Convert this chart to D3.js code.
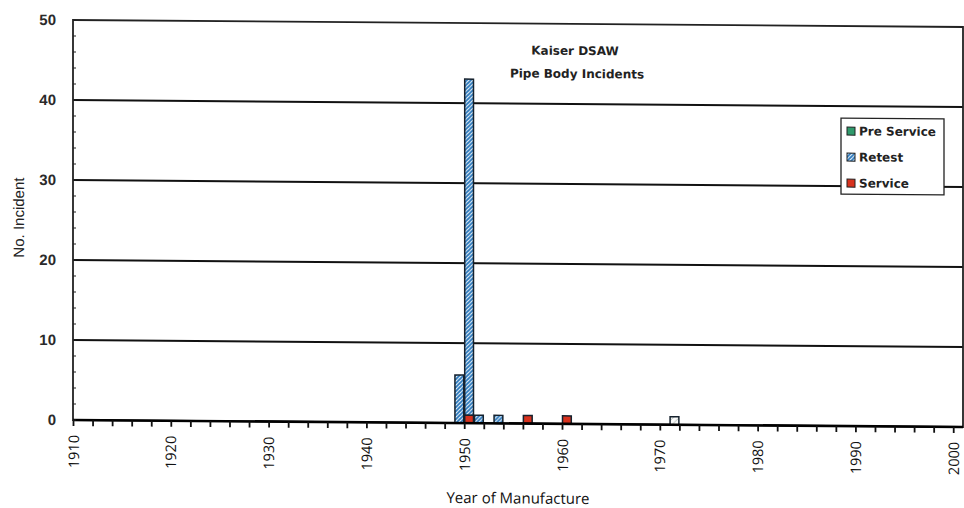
<!DOCTYPE html>
<html>
<head>
<meta charset="utf-8">
<script src="https://cdn.jsdelivr.net/npm/d3@7"></script>
<style>
  body { margin: 0; background: #fff; }
  svg { display: block; }
</style>
</head>
<body>
<div id="chart"></div>
<script>
// data
const years = [1949, 1950, 1951, 1953, 1956, 1960, 1971];
const preService = [0, 0, 0, 0, 0, 0, 1];
const retest = [6, 42, 1, 1, 0, 0, 0];
const service = [0, 1, 0, 0, 1, 1, 0];
const seriesNames = ["Pre Service", "Retest", "Service"];
const yTicks = [0, 10, 20, 30, 40, 50];
const xTickLabels = [1910, 1920, 1930, 1940, 1950, 1960, 1970, 1980, 1990, 2000];

const width = 964, height = 508;
const plotLeft = 73, plotRight = 963, plotTop = 20, plotBottom = 420;

const svg = d3.select("#chart").append("svg")
    .attr("width", width)
    .attr("height", height);

// the scan is slightly skewed
let root = svg.append("g")
    .attr("transform", "translate(" + plotLeft + ",0) skewY(0.45) translate(" + (-plotLeft) + ",0)");

let defs = svg.append("defs");
let pRetest = defs.append("pattern")
    .attr("id", "retest")
    .attr("patternUnits", "userSpaceOnUse")
    .attr("width", 4).attr("height", 4);
pRetest.append("rect").attr("width", 4).attr("height", 4).attr("fill", "#f4f8fb");
pRetest.append("path")
    .attr("d", "M-1,1 l2,-2 M0,4 l4,-4 M3,5 l2,-2")
    .attr("stroke", "#2a78bd").attr("stroke-width", 1.9);

let pPre = defs.append("pattern")
    .attr("id", "pre")
    .attr("patternUnits", "userSpaceOnUse")
    .attr("width", 6).attr("height", 6);
pPre.append("rect").attr("width", 6).attr("height", 6).attr("fill", "#fbfbfb");
pPre.append("path")
    .attr("d", "M0,6 l6,-6")
    .attr("stroke", "#9aa9a2").attr("stroke-width", 0.8);

const x = d3.scaleLinear().domain([1910, 2001]).range([plotLeft, plotRight]);
const y = d3.scaleLinear().domain([0, 50]).range([plotBottom, plotTop]);

// gridlines
root.append("g")
    .selectAll("line")
    .data(yTicks.filter(d => d > 0 && d < 50))
    .enter().append("line")
    .attr("x1", plotLeft).attr("x2", plotRight)
    .attr("y1", d => y(d)).attr("y2", d => y(d))
    .attr("stroke", "#111")
    .attr("stroke-width", 2);

// frame
root.append("rect")
    .attr("x", plotLeft).attr("y", plotTop)
    .attr("width", plotRight - plotLeft).attr("height", plotBottom - plotTop)
    .attr("fill", "none")
    .attr("stroke", "#222")
    .attr("stroke-width", 1.8);

// bars (stacked, service at the bottom)
const table = years.map((yr, i) => ({
    year: yr, "Service": service[i], "Retest": retest[i], "Pre Service": preService[i]
}));
const stack = d3.stack().keys(["Service", "Retest", "Pre Service"])(table);
const fills = { "Pre Service": "url(#pre)", "Retest": "url(#retest)", "Service": "#d8321e" };

root.append("g")
    .selectAll("g")
    .data(stack)
    .enter().append("g")
    .attr("fill", d => fills[d.key])
    .selectAll("rect")
    .data(d => d.filter(p => p[1] > p[0]))
    .enter().append("rect")
    .attr("x", d => x(d.data.year) + 0.5)
    .attr("width", d => x(d.data.year + 1) - x(d.data.year) - 1)
    .attr("y", d => y(d[1]))
    .attr("height", d => y(d[0]) - y(d[1]))
    .attr("stroke", "#16222e")
    .attr("stroke-width", 1.5);

// baseline drawn over bars
root.append("path")
    .attr("d", "M" + plotLeft + "," + plotBottom + "H" + plotRight)
    .attr("fill", "none")
    .attr("stroke", "#000").attr("stroke-width", 2.6);

// x axis
let xAxis = root.append("g")
    .attr("transform", "translate(0," + plotBottom + ")")
    .call(d3.axisBottom(x)
        .tickValues(d3.range(1910, 2001, 2))
        .tickSize(6)
        .tickFormat(d => xTickLabels.includes(d) ? d : ""));
xAxis.select(".domain").remove();
xAxis.selectAll(".tick line").attr("stroke", "#111").attr("stroke-width", 1.8);
xAxis.selectAll(".tick text")
    .attr("transform", "rotate(-90)")
    .attr("text-anchor", "end")
    .attr("x", -15)
    .attr("y", 0)
    .attr("dy", "0.35em")
    .attr("font-family", "'Open Sans', sans-serif")
    .attr("font-size", 14.5)
    .attr("fill", "#111");

// y axis
let yAxis = root.append("g")
    .attr("transform", "translate(" + plotLeft + ",0)")
    .call(d3.axisLeft(y).tickValues(yTicks).tickSize(0).tickPadding(17));
yAxis.select(".domain").remove();
yAxis.selectAll(".tick text")
    .attr("font-family", "'Liberation Sans', Arial, sans-serif")
    .attr("font-size", 15)
    .attr("font-weight", "bold")
    .attr("fill", "#2a2a2a");

// minor ticks on the y axis, inside
root.append("g")
    .selectAll("line")
    .data(d3.range(0, 51, 2))
    .enter().append("line")
    .attr("x1", plotLeft).attr("x2", plotLeft + 3)
    .attr("y1", d => y(d)).attr("y2", d => y(d))
    .attr("stroke", "#222").attr("stroke-width", 1.2);

// axis titles
root.append("text")
    .attr("transform", "translate(24,218) rotate(-90)")
    .attr("text-anchor", "middle")
    .attr("font-family", "'Liberation Sans', Arial, sans-serif")
    .attr("font-size", 15)
    .attr("fill", "#222")
    .text("No. Incident");

root.append("text")
    .attr("x", 518).attr("y", 500)
    .attr("text-anchor", "middle")
    .attr("font-family", "'Open Sans', sans-serif")
    .attr("font-size", 15)
    .attr("fill", "#111")
    .text("Year of Manufacture");

// chart title
let title = root.append("text")
    .attr("text-anchor", "middle")
    .attr("font-family", "'DejaVu Sans', sans-serif")
    .attr("font-size", 12)
    .attr("font-weight", "bold")
    .attr("fill", "#222");
title.append("tspan").attr("x", 575).attr("y", 51).text("Kaiser DSAW");
title.append("tspan").attr("x", 577).attr("y", 74).text("Pipe Body Incidents");

// legend
const legendColors = ["#2f9a6c", "url(#retest)", "#d8321e"];
let legend = root.append("g").attr("transform", "translate(841,112)");
legend.append("rect")
    .attr("width", 103).attr("height", 76)
    .attr("fill", "#fff")
    .attr("stroke", "#222").attr("stroke-width", 1.3);
let item = legend.selectAll("g.item")
    .data(seriesNames)
    .enter().append("g")
    .attr("class", "item")
    .attr("transform", (d, i) => "translate(6," + (13 + i * 26) + ")");
item.append("rect")
    .attr("x", 0).attr("y", -4)
    .attr("width", 8).attr("height", 8)
    .attr("fill", (d, i) => legendColors[i])
    .attr("stroke", "#222").attr("stroke-width", 1);
item.append("text")
    .attr("x", 12).attr("dy", "0.35em")
    .attr("font-family", "'DejaVu Sans', sans-serif")
    .attr("font-size", 12)
    .attr("font-weight", "bold")
    .attr("fill", "#222")
    .text(d => d);
</script>
</body>
</html>
